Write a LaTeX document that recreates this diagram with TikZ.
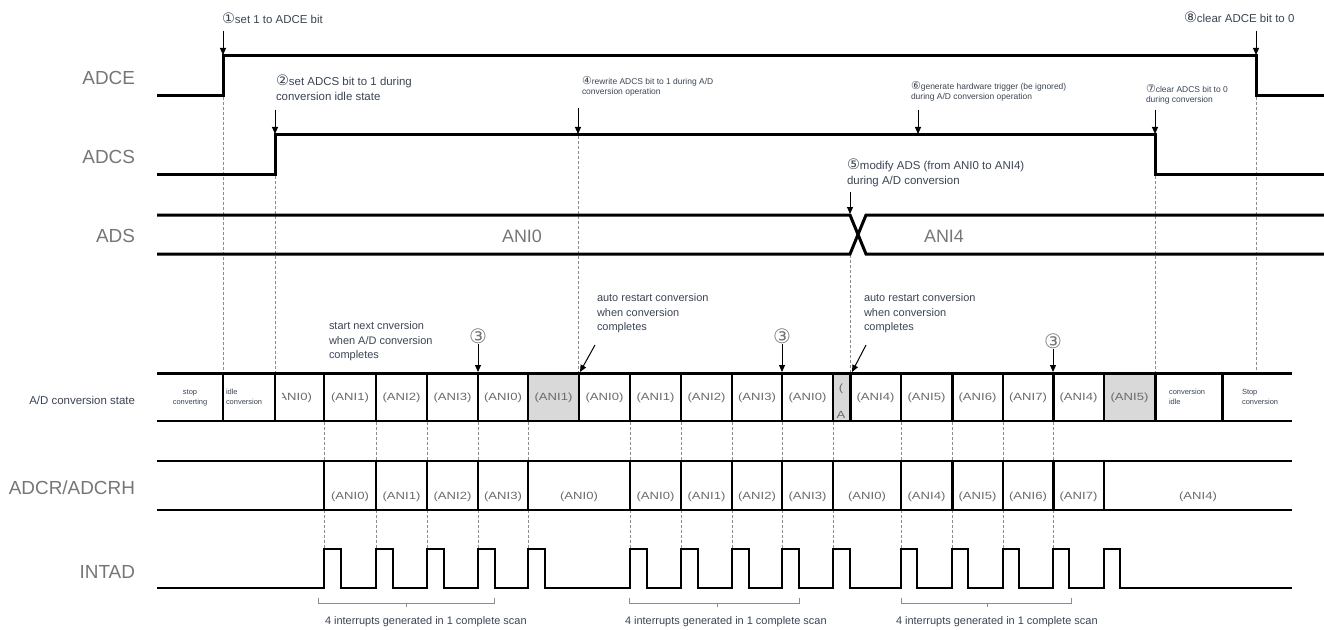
\documentclass[tikz,border=0pt]{standalone}
\usepackage{fontspec}
\setmainfont{Liberation Sans}
\newfontfamily\symf{DejaVu Sans}
\newfontfamily\cellf[FakeStretch=1.25]{Liberation Sans}
\usetikzlibrary{arrows.meta}
\definecolor{anncol}{HTML}{3A4454}
\definecolor{lblcol}{HTML}{767676}
\definecolor{cellcol}{HTML}{6A6A6A}
\definecolor{shadecol}{HTML}{D9D9D9}
\definecolor{guidecol}{HTML}{8C8C8C}
\tikzset{
  sig/.style={line width=3bp},
  guide/.style={draw=guidecol, line width=1bp, dash pattern=on 3bp off 2bp},
  biglab/.style={anchor=east, text=lblcol, font=\fontsize{19}{22}\selectfont},
  annbig/.style={anchor=north west, align=left, text=anncol, font=\fontsize{11.5}{15}\selectfont},
  annmid/.style={anchor=north west, align=left, text=anncol, font=\fontsize{11}{14.3}\selectfont},
  annsmall/.style={anchor=north west, align=left, text=anncol, font=\fontsize{8.5}{10.8}\selectfont},
  celltxt/.style={text=cellcol, font=\cellf\fontsize{10.5}{12}\selectfont},
  tinytxt/.style={align=left, text=anncol, font=\fontsize{7.5}{10}\selectfont},
  darr/.style={-{Triangle[length=7bp,width=6bp]}, line width=1bp},
  thin/.style={line width=1.5bp},
  thick/.style={line width=3bp},
  circ/.style={text=lblcol, font=\symf\fontsize{20}{20}\selectfont},
  brace/.style={draw=guidecol, line width=1bp}
}
\newcommand\cbig[1]{{\symf\fontsize{14.5}{12}\selectfont #1}}
\newcommand\csmall[1]{{\symf\fontsize{11}{10}\selectfont #1}}
\begin{document}
\begin{tikzpicture}[x=1bp,y=-1bp, every node/.style={inner sep=0pt, outer sep=0pt}]
\useasboundingbox (0,0) rectangle (1324,630);

% ---------- labels ----------
\node[biglab] (lADCE) at (135,78) {ADCE};
\node[biglab] (lADCS) at (135,157) {ADCS};
\node[biglab] (lADS) at (135,236) {ADS};
\node[anchor=east, text=anncol, font=\fontsize{11.5}{13}\selectfont] (lstate) at (135,400) {A/D conversion state};
\node[biglab] (lADCR) at (135,488) {ADCR/ADCRH};
\node[biglab] (lINTAD) at (135,572) {INTAD};

% ---------- guides (dashed) ----------
\draw[guide] (223,97) -- (223,372);
\draw[guide] (275,176) -- (275,372);
\draw[guide] (578,136) -- (578,372);
\draw[guide] (850,255) -- (850,372);
\draw[guide] (1155,176) -- (1155,372);
\draw[guide] (1256,97) -- (1256,372);
\foreach \p in {324,376,427,478,528,630,681,732,782,833,901,952,1003,1053}{
  \draw[guide] (\p,422) -- (\p,461);
  \draw[guide] (\p,510) -- (\p,549);
}

% ---------- signals ----------
\draw[sig] (157,96) -- (223,96) -- (223,56) -- (1256,56) -- (1256,96) -- (1324,96);
\draw[sig] (157,175) -- (275,175) -- (275,135) -- (1155,135) -- (1155,175) -- (1324,175);
\draw[sig] (157,215) -- (850,215) -- (866,254) -- (1324,254);
\draw[sig] (157,254) -- (850,254) -- (866,215) -- (1324,215);
\node[text=lblcol, font=\fontsize{18}{20}\selectfont] (vANI0) at (522,236) {ANI0};
\node[text=lblcol, font=\fontsize{18}{20}\selectfont] (vANI4) at (944,236) {ANI4};

% ---------- A/D conversion state row ----------
\fill[shadecol] (528,373) rectangle (579,421);
\fill[shadecol] (833,373) rectangle (850,421);
\fill[shadecol] (1104,373) rectangle (1155,421);
\draw[thick] (157,373) -- (1292,373);
\draw[thin] (157,421) -- (1292,421);
\foreach \p in {223,324,376,427,478,528,579,630,681,732,782,833,901,1003,1104}{
  \draw[thin] (\p,373) -- (\p,421);
}
\draw[line width=2bp] (275,373) -- (275,421);
\foreach \p in {850,952,1053,1155,1222}{
  \draw[thick] (\p,373) -- (\p,421);
}
\node[tinytxt, align=center] (sStop) at (190,398) {stop\\converting};
\node[tinytxt, anchor=west] (sIdle) at (226,397) {idle\\conversion};
\begin{scope}
  \clip (282,374) rectangle (323,420);
  \node[celltxt] (s0) at (293,398) {(ANI0)};
\end{scope}
\foreach \a/\b/\t [count=\i] in {324/376/(ANI1),376/427/(ANI2),427/478/(ANI3),478/528/(ANI0),528/579/(ANI1),579/630/(ANI0),630/681/(ANI1),681/732/(ANI2),732/782/(ANI3),782/833/(ANI0),850/901/(ANI4),901/952/(ANI5),952/1003/(ANI6),1003/1053/(ANI7),1053/1104/(ANI4),1104/1155/(ANI5)}{
  \node[celltxt] (s\i) at ({(\a+\b)/2},398) {\t};
}
\node[celltxt] (sNarrowA) at (841,389) {(};
\node[celltxt] (sNarrowB) at (841,415) {A};
\node[tinytxt, anchor=west] (sCidle) at (1169,397) {conversion\\idle};
\node[tinytxt, anchor=west] (sStop2) at (1242,397) {Stop\\conversion};

% ---------- ADCR/ADCRH row ----------
\draw[thin] (157,461) -- (1292,461);
\draw[thin] (157,510) -- (1292,510);
\foreach \p in {324,376,427,478,528,630,681,732,782,833,901,1003,1104}{
  \draw[thin] (\p,461) -- (\p,510);
}
\foreach \p in {952,1053}{
  \draw[thick] (\p,461) -- (\p,510);
}
\foreach \a/\b/\t [count=\i] in {324/376/(ANI0),376/427/(ANI1),427/478/(ANI2),478/528/(ANI3),528/630/(ANI0),630/681/(ANI0),681/732/(ANI1),732/782/(ANI2),782/833/(ANI3),833/901/(ANI0),901/952/(ANI4),952/1003/(ANI5),1003/1053/(ANI6),1053/1104/(ANI7),1104/1292/(ANI4)}{
  \node[celltxt] (r\i) at ({(\a+\b)/2},497) {\t};
}

% ---------- INTAD ----------
\draw[line width=1.7bp] (157,588)
  \foreach \p in {324,376,427,478,528,630,681,732,782,833}{ -- (\p,588) -- (\p,549) -- ({\p+17},549) -- ({\p+17},588) }
  -- (870,588);
\draw[line width=2.5bp] (868,588)
  \foreach \p in {901,952,1003,1053,1104}{ -- (\p,588) -- (\p,549) -- ({\p+16},549) -- ({\p+16},588) }
  -- (1292,588);

% ---------- braces ----------
\draw[brace] (318,598) -- (318,603) -- (494,603) -- (494,598);
\draw[brace] (406,603) -- (406,607);
\draw[brace] (629,598) -- (629,603) -- (799,603) -- (799,598);
\draw[brace] (717,603) -- (717,607);
\draw[brace] (901,598) -- (901,603) -- (1071,603) -- (1071,598);
\draw[brace] (987,603) -- (987,607);
\node[anchor=west, text=anncol, font=\fontsize{11}{13}\selectfont] (b1) at (325,622) {4 interrupts generated in 1 complete scan};
\node[anchor=west, text=anncol, font=\fontsize{11}{13}\selectfont] (b2) at (625,622) {4 interrupts generated in 1 complete scan};
\node[anchor=west, text=anncol, font=\fontsize{11}{13}\selectfont] (b3) at (896,622) {4 interrupts generated in 1 complete scan};

% ---------- annotations ----------
\node[anchor=west, text=anncol, font=\fontsize{11.5}{13}\selectfont] (n1) at (222,18) {\cbig{①}set 1 to ADCE bit};
\coordinate (a1s) at (223,31); \coordinate (a1e) at (223,55);
\draw[darr] (a1s) -- (a1e);

\node[annbig] (n2) at (276,75) {\cbig{②}set ADCS bit to 1 during\\conversion idle state};
\coordinate (a2s) at (275,110); \coordinate (a2e) at (275,134);
\draw[darr] (a2s) -- (a2e);

\node[annsmall] (n4) at (582,76) {\csmall{④}rewrite ADCS bit to 1 during A/D\\conversion operation};
\coordinate (a4s) at (578,108); \coordinate (a4e) at (578,134);
\draw[darr] (a4s) -- (a4e);

\node[annbig] (n5) at (847,159) {\cbig{⑤}modify ADS (from ANI0 to ANI4)\\during A/D conversion};
\coordinate (a5s) at (850,192); \coordinate (a5e) at (850,214);
\draw[darr] (a5s) -- (a5e);

\node[annsmall] (n6) at (911,81) {\csmall{⑥}generate hardware trigger (be ignored)\\during A/D conversion operation};
\coordinate (a6s) at (918,110); \coordinate (a6e) at (918,134);
\draw[darr] (a6s) -- (a6e);

\node[annsmall] (n7) at (1146,84) {\csmall{⑦}clear ADCS bit to 0\\during conversion};
\coordinate (a7s) at (1155,110); \coordinate (a7e) at (1155,134);
\draw[darr] (a7s) -- (a7e);

\node[anchor=west, text=anncol, font=\fontsize{11.5}{13}\selectfont] (n8) at (1184,17) {\cbig{⑧}clear ADCE bit to 0};
\coordinate (a8s) at (1256,31); \coordinate (a8e) at (1256,55);
\draw[darr] (a8s) -- (a8e);

\node[annmid] (nStart) at (329,322) {start next cnversion\\when A/D conversion\\completes};
\node[annmid] (nAuto1) at (597,294) {auto restart conversion\\when conversion\\completes};
\node[annmid] (nAuto2) at (864,294) {auto restart conversion\\when conversion\\completes};
\coordinate (r1s) at (595,345); \coordinate (r1e) at (580,372);
\draw[darr] (r1s) -- (r1e);
\coordinate (r2s) at (866,345); \coordinate (r2e) at (852,372);
\draw[darr] (r2s) -- (r2e);

\node[circ] (c1) at (478,336) {③};
\node[circ] (c2) at (782,336) {③};
\node[circ] (c3) at (1053,341) {③};
\draw[darr] (c1.south) ++(0,1) -- (478,372);
\draw[darr] (c2.south) ++(0,1) -- (782,372);
\draw[darr] (c3.south) ++(0,1) -- (1053,372);
\end{tikzpicture}
\end{document}
